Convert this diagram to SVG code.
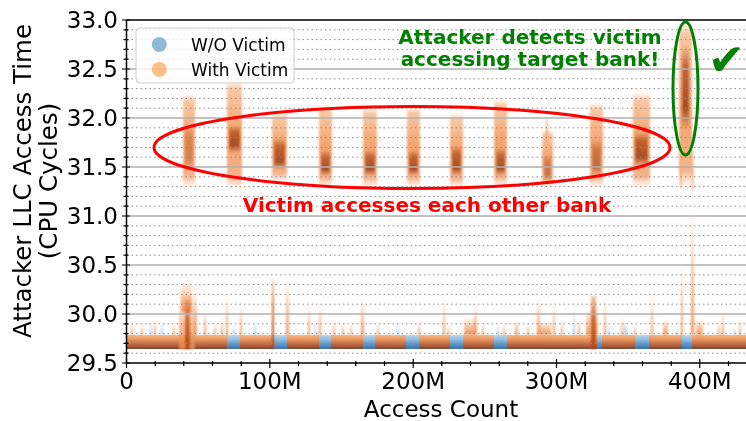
<svg xmlns="http://www.w3.org/2000/svg" width="746" height="421" viewBox="0 0 746 421">
  <style>
    .tick { font-family: "DejaVu Sans", "Liberation Sans", sans-serif; font-size: 23px; fill: #000; }
    .axlabel { font-family: "DejaVu Sans", "Liberation Sans", sans-serif; font-size: 23px; fill: #000; }
    .ylabel { font-family: "DejaVu Sans", "Liberation Sans", sans-serif; font-size: 24.5px; fill: #000; }
    .leg { font-family: "DejaVu Sans", "Liberation Sans", sans-serif; font-size: 17px; fill: #000; }
    .note { font-family: "DejaVu Sans", "Liberation Sans", sans-serif; font-size: 20px; font-weight: bold; }
    .spine { stroke: #000; stroke-width: 1.5; fill: none; }
    .ticks { stroke: #000; stroke-width: 1.2; fill: none; }
    .gridmajor { stroke: #b0b0b0; stroke-width: 1.6; fill: none; }
    .gridminor { stroke: #8c8c8c; stroke-width: 1; stroke-dasharray: 1.5 3; fill: none; }
    .sp { fill: url(#spikeO); }
    .spd { fill: url(#spikeD); }
    .spb { fill: url(#spikeB); }
  </style>
  <defs>
    <linearGradient id="bandO" x1="0" y1="0" x2="0" y2="1">
      <stop offset="0" stop-color="#f7b889"/>
      <stop offset="0.35" stop-color="#e6905a"/>
      <stop offset="0.7" stop-color="#b86641"/>
      <stop offset="1" stop-color="#804332"/>
    </linearGradient>
    <linearGradient id="bandB" x1="0" y1="0" x2="0" y2="1">
      <stop offset="0" stop-color="#bcd8ec"/>
      <stop offset="0.4" stop-color="#86b5da"/>
      <stop offset="0.8" stop-color="#4d86bc"/>
      <stop offset="1" stop-color="#3f72a6"/>
    </linearGradient>
    <linearGradient id="spikeO" x1="0" y1="0" x2="0" y2="1">
      <stop offset="0" stop-color="#f8b27e" stop-opacity="0.1"/>
      <stop offset="0.5" stop-color="#f39c60" stop-opacity="0.6"/>
      <stop offset="1" stop-color="#ee8c4d" stop-opacity="0.9"/>
    </linearGradient>
    <linearGradient id="spikeD" x1="0" y1="0" x2="0" y2="1">
      <stop offset="0" stop-color="#e0702e" stop-opacity="0.4"/>
      <stop offset="0.4" stop-color="#d2611f" stop-opacity="0.9"/>
      <stop offset="1" stop-color="#b24a1a" stop-opacity="1"/>
    </linearGradient>
    <linearGradient id="spikeB" x1="0" y1="0" x2="0" y2="1">
      <stop offset="0" stop-color="#a9cce6" stop-opacity="0.2"/>
      <stop offset="1" stop-color="#8dbbdf" stop-opacity="0.85"/>
    </linearGradient>
    <linearGradient id="colBody" x1="0" y1="0" x2="0" y2="1">
      <stop offset="0" stop-color="#fbd0ad" stop-opacity="0"/>
      <stop offset="0.08" stop-color="#f8b98d" stop-opacity="0.8"/>
      <stop offset="0.5" stop-color="#f19a5e" stop-opacity="0.92"/>
      <stop offset="0.88" stop-color="#f4a676" stop-opacity="0.85"/>
      <stop offset="1" stop-color="#f9c4a0" stop-opacity="0"/>
    </linearGradient>
    <linearGradient id="colCore" x1="0" y1="0" x2="0" y2="1">
      <stop offset="0" stop-color="#c65a20" stop-opacity="0"/>
      <stop offset="0.25" stop-color="#b24c19" stop-opacity="0.75"/>
      <stop offset="0.75" stop-color="#9a3e14" stop-opacity="0.85"/>
      <stop offset="1" stop-color="#b24c19" stop-opacity="0"/>
    </linearGradient>
    <filter id="soft" x="-30%" y="-5%" width="160%" height="110%">
      <feGaussianBlur stdDeviation="1"/>
    </filter>
  </defs>

  <rect x="0" y="0" width="746" height="421" fill="#fff"/>

  <!-- measurement data -->
  <g id="data">
    <!-- baseline band, both runs -->
    <rect x="127" y="335" width="619" height="14" fill="url(#bandO)"/>
    <g id="band-no-victim">
      <rect x="191" y="335" width="3" height="14" fill="url(#bandB)"/>
      <rect x="227" y="335" width="13" height="14" fill="url(#bandB)"/>
      <rect x="274" y="335" width="13" height="14" fill="url(#bandB)"/>
      <rect x="319" y="335" width="12" height="14" fill="url(#bandB)"/>
      <rect x="363" y="335" width="12" height="14" fill="url(#bandB)"/>
      <rect x="406" y="335" width="13" height="14" fill="url(#bandB)"/>
      <rect x="450" y="335" width="13" height="14" fill="url(#bandB)"/>
      <rect x="494" y="335" width="13" height="14" fill="url(#bandB)"/>
      <rect x="597" y="335" width="5" height="14" fill="url(#bandB)"/>
      <rect x="635" y="335" width="14" height="14" fill="url(#bandB)"/>
      <rect x="682" y="335" width="10" height="14" fill="url(#bandB)"/>
    </g>
    <!-- short excursions above the band -->
    <g id="spikes" filter="url(#soft)">
      <rect class="spb" x="150" y="322" width="2" height="13"/>
      <rect class="spb" x="161" y="322" width="2" height="13"/>
      <rect class="spb" x="233" y="325" width="2" height="10"/>
      <rect class="spb" x="254" y="322" width="2" height="13"/>
      <rect class="spb" x="314" y="323" width="2" height="12"/>
      <rect class="spb" x="397" y="323" width="2" height="12"/>
      <rect class="spb" x="497" y="325" width="2" height="10"/>
      <rect class="spb" x="573" y="310" width="2" height="25"/>
      <rect class="spb" x="608" y="325" width="2" height="10"/>
      <rect class="spb" x="624" y="322" width="3" height="13"/>
      <rect class="spb" x="734" y="328" width="2" height="7"/>

      <rect class="sp" x="131" y="323" width="2" height="12"/>
      <rect class="sp" x="141" y="325" width="2" height="10"/>
      <rect class="sp" x="154" y="320" width="2" height="15"/>
      <rect class="sp" x="173" y="323" width="2" height="12"/>
      <rect class="sp" x="179" y="296" width="16" height="53"/>
      <rect class="sp" x="181" y="282" width="11" height="30"/>
      <rect class="spd" x="185" y="300" width="5" height="49"/>
      <rect class="sp" x="194" y="293" width="3" height="42"/>
      <rect class="sp" x="204" y="310" width="2" height="25"/>
      <rect class="sp" x="214" y="323" width="2" height="12"/>
      <rect class="sp" x="221" y="318" width="2" height="17"/>
      <rect class="sp" x="226" y="295" width="2" height="40"/>
      <rect class="sp" x="240" y="305" width="2" height="30"/>
      <rect class="spd" x="272" y="281" width="2" height="68"/>
      <rect class="sp" x="286" y="282" width="3" height="53"/>
      <rect class="sp" x="308" y="305" width="2" height="30"/>
      <rect class="sp" x="319" y="305" width="2" height="30"/>
      <rect class="sp" x="333" y="320" width="2" height="15"/>
      <rect class="sp" x="342" y="323" width="2" height="12"/>
      <rect class="sp" x="350" y="323" width="2" height="12"/>
      <rect class="sp" x="361" y="300" width="3" height="35"/>
      <rect class="sp" x="377" y="323" width="2" height="12"/>
      <rect class="sp" x="418" y="322" width="2" height="13"/>
      <rect class="sp" x="443" y="300" width="2" height="35"/>
      <rect class="sp" x="448" y="325" width="2" height="10"/>
      <rect class="sp" x="464" y="318" width="12" height="17"/>
      <rect class="sp" x="474" y="307" width="3" height="28"/>
      <rect class="sp" x="482" y="323" width="2" height="12"/>
      <rect class="sp" x="503" y="325" width="2" height="10"/>
      <rect class="sp" x="515" y="320" width="3" height="15"/>
      <rect class="sp" x="527" y="325" width="2" height="10"/>
      <rect class="sp" x="537" y="300" width="3" height="35"/>
      <rect class="sp" x="538" y="322" width="13" height="13"/>
      <rect class="sp" x="553" y="303" width="2" height="32"/>
      <rect class="sp" x="561" y="320" width="2" height="15"/>
      <rect class="sp" x="578" y="320" width="2" height="15"/>
      <rect class="sp" x="586" y="310" width="12" height="25"/>
      <rect class="spd" x="591" y="296" width="5" height="53"/>
      <rect class="sp" x="604" y="300" width="2" height="35"/>
      <rect class="sp" x="621" y="318" width="2" height="17"/>
      <rect class="sp" x="634" y="325" width="2" height="10"/>
      <rect class="sp" x="651" y="296" width="2" height="39"/>
      <rect class="sp" x="663" y="320" width="5" height="15"/>
      <rect class="sp" x="676" y="330" width="2" height="5"/>
      <rect class="sp" x="681" y="268" width="2" height="67"/>
      <rect class="sp" x="691" y="215" width="3" height="120"/>
      <rect class="sp" x="696" y="320" width="7" height="15"/>
      <rect class="sp" x="718" y="322" width="2" height="13"/>
      <rect class="sp" x="722" y="310" width="2" height="25"/>
      <rect class="sp" x="739" y="320" width="2" height="15"/>
    </g>
    <!-- raised access times while the victim is active -->
    <g id="bursts" filter="url(#soft)">
      <rect x="183" y="93" width="12" height="95" fill="url(#colBody)"/>
      <rect x="185" y="125" width="8" height="45" fill="url(#colCore)" opacity="0.45"/>
      <rect x="227" y="80" width="15" height="110" fill="url(#colBody)"/>
      <rect x="229" y="125" width="11" height="28" fill="url(#colCore)"/>
      <rect x="272" y="112" width="15" height="70" fill="url(#colBody)"/>
      <rect x="274" y="138" width="11" height="32" fill="url(#colCore)"/>
      <rect x="319" y="105" width="13" height="83" fill="url(#colBody)"/>
      <rect x="321" y="150" width="9" height="26" fill="url(#colCore)"/>
      <rect x="363" y="107" width="14" height="81" fill="url(#colBody)"/>
      <rect x="365" y="150" width="10" height="26" fill="url(#colCore)"/>
      <rect x="407" y="106" width="13" height="82" fill="url(#colBody)"/>
      <rect x="409" y="150" width="9" height="26" fill="url(#colCore)"/>
      <rect x="450" y="113" width="13" height="75" fill="url(#colBody)"/>
      <rect x="452" y="146" width="9" height="30" fill="url(#colCore)"/>
      <rect x="494" y="98" width="13" height="90" fill="url(#colBody)"/>
      <rect x="496" y="148" width="9" height="28" fill="url(#colCore)"/>
      <rect x="542" y="130" width="11" height="58" fill="url(#colBody)"/>
      <rect x="546" y="118" width="2" height="30" fill="url(#colBody)"/>
      <rect x="544" y="155" width="7" height="26" fill="url(#colCore)" opacity="0.6"/>
      <rect x="590" y="102" width="13" height="86" fill="url(#colBody)"/>
      <rect x="592" y="140" width="9" height="36" fill="url(#colCore)" opacity="0.7"/>
      <rect x="633" y="92" width="17" height="96" fill="url(#colBody)"/>
      <rect x="635" y="132" width="13" height="34" fill="url(#colCore)"/>
      <rect x="679" y="20" width="13" height="170" fill="url(#colBody)"/>
      <rect x="682" y="45" width="7" height="85" fill="url(#colCore)"/>
      <rect x="680" y="150" width="1.5" height="40" fill="url(#colBody)"/>
      <rect x="692" y="150" width="1.5" height="45" fill="url(#colBody)"/>
    </g>
  </g>

  <!-- grid -->
  <g id="grid">
    <path class="gridminor" d="M127 353.2H746M127 343.4H746M127 333.6H746M127 323.8H746M127 304.2H746M127 294.4H746M127 284.6H746M127 274.8H746M127 255.2H746M127 245.4H746M127 235.6H746M127 225.8H746M127 206.2H746M127 196.4H746M127 186.6H746M127 176.8H746M127 157.2H746M127 147.4H746M127 137.6H746M127 127.8H746M127 108.2H746M127 98.4H746M127 88.6H746M127 78.8H746M127 59.2H746M127 49.4H746M127 39.6H746M127 29.8H746"/>
    <path class="gridmajor" d="M127 314H746M127 265H746M127 216H746M127 167H746M127 118H746M127 69H746"/>
  </g>

  <!-- axes -->
  <g id="axes">
    <path class="spine" d="M126.5 20V363H746M126.5 20H746"/>
    <path class="ticks" d="M122 20H130M122 69H130M122 118H130M122 167H130M122 216H130M122 265H130M122 314H130M122 363H130"/>
    <path class="ticks" d="M123.5 353.2H128.5M123.5 343.4H128.5M123.5 333.6H128.5M123.5 323.8H128.5M123.5 304.2H128.5M123.5 294.4H128.5M123.5 284.6H128.5M123.5 274.8H128.5M123.5 255.2H128.5M123.5 245.4H128.5M123.5 235.6H128.5M123.5 225.8H128.5M123.5 206.2H128.5M123.5 196.4H128.5M123.5 186.6H128.5M123.5 176.8H128.5M123.5 157.2H128.5M123.5 147.4H128.5M123.5 137.6H128.5M123.5 127.8H128.5M123.5 108.2H128.5M123.5 98.4H128.5M123.5 88.6H128.5M123.5 78.8H128.5M123.5 59.2H128.5M123.5 49.4H128.5M123.5 39.6H128.5M123.5 29.8H128.5"/>
    <path class="ticks" d="M126.5 359V368M269.8 359V368M413.2 359V368M556.5 359V368M699.8 359V368"/>
    <path class="ticks" d="M155.2 361V366M183.8 361V366M212.5 361V366M241.2 361V366M298.5 361V366M327.2 361V366M355.8 361V366M384.5 361V366M441.8 361V366M470.5 361V366M499.2 361V366M527.8 361V366M585.2 361V366M613.8 361V366M642.5 361V366M671.2 361V366M728.5 361V366"/>
    <g class="tick" text-anchor="end">
      <text x="118" y="28">33.0</text>
      <text x="118" y="77">32.5</text>
      <text x="118" y="126">32.0</text>
      <text x="118" y="175">31.5</text>
      <text x="118" y="224">31.0</text>
      <text x="118" y="273">30.5</text>
      <text x="118" y="322">30.0</text>
      <text x="118" y="371">29.5</text>
    </g>
    <g class="tick" text-anchor="middle">
      <text x="126.5" y="389">0</text>
      <text x="269.8" y="389">100M</text>
      <text x="413.2" y="389">200M</text>
      <text x="556.5" y="389">300M</text>
      <text x="699.8" y="389">400M</text>
    </g>
    <text class="axlabel" x="441" y="417" text-anchor="middle">Access Count</text>
    <g class="ylabel" text-anchor="middle" transform="translate(0 181) rotate(-90)">
      <text x="0" y="31">Attacker LLC Access Time</text>
      <text x="0" y="57">(CPU Cycles)</text>
    </g>
  </g>

  <!-- legend -->
  <g id="legend">
    <rect x="136" y="28" width="158" height="55" rx="4" fill="#fff" fill-opacity="0.8" stroke="#cccccc" stroke-width="1"/>
    <circle cx="159.3" cy="44.5" r="7.5" fill="#1f77b4" fill-opacity="0.5"/>
    <circle cx="159.3" cy="69.5" r="7.5" fill="#ff7f0e" fill-opacity="0.5"/>
    <text class="leg" x="191" y="50.5">W/O Victim</text>
    <text class="leg" x="191" y="76">With Victim</text>
  </g>

  <!-- annotations -->
  <g id="note-other-banks">
    <ellipse cx="412" cy="147.5" rx="258" ry="41" fill="none" stroke="#ff0000" stroke-width="3"/>
    <text class="note" x="427" y="211.5" text-anchor="middle" fill="#ff0000">Victim accesses each other bank</text>
  </g>
  <g id="note-target-bank">
    <ellipse cx="685.5" cy="88.5" rx="12.5" ry="66.5" fill="none" stroke="#008000" stroke-width="3"/>
    <text class="note" x="530" y="43.5" text-anchor="middle" fill="#008000">Attacker detects victim</text>
    <text class="note" x="530" y="65.5" text-anchor="middle" fill="#008000">accessing target bank!</text>
    <text x="708" y="75" font-family="DejaVu Sans, sans-serif" font-size="44" fill="#008000">✔</text>
  </g>
</svg>
